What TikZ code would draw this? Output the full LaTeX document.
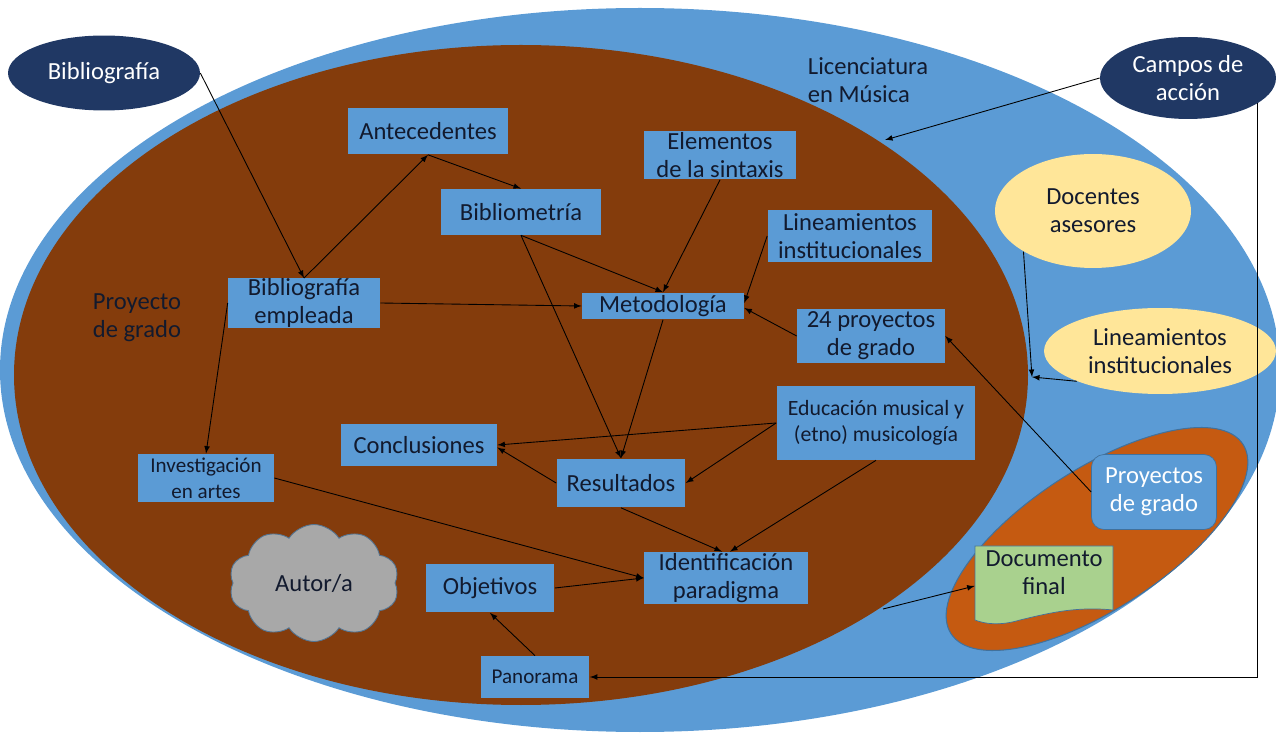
\documentclass[tikz,border=0pt]{standalone}
\usepackage{fontspec}
\setmainfont{Carlito}
\usetikzlibrary{shapes.symbols,shapes.geometric,arrows}
\definecolor{outerblue}{HTML}{5B9BD5}
\definecolor{brownin}{HTML}{843C0C}
\definecolor{orangein}{HTML}{C55A11}
\definecolor{navy}{HTML}{203864}
\definecolor{paleyellow}{HTML}{FFE699}
\definecolor{palegreen}{HTML}{A9D18E}
\definecolor{cloudgray}{HTML}{A8A8A8}
\definecolor{inktxt}{HTML}{121A2E}
\definecolor{edgeblue}{HTML}{41719C}

\begin{document}
\begin{tikzpicture}[x=0.02cm, y=-0.02cm, >=latex]
	\tikzstyle{box}=[rectangle, fill=outerblue, text=inktxt, align=center, inner sep=0pt, font=\fontsize{14}{16}\selectfont]
	\tikzstyle{oval}=[ellipse, fill=navy, text=white, align=center, inner sep=0pt, font=\fontsize{14}{16}\selectfont]
	\tikzstyle{yoval}=[ellipse, fill=paleyellow, text=inktxt, align=center, inner sep=0pt, font=\fontsize{14}{16}\selectfont]
	\tikzstyle{lbl}=[text=inktxt, align=left, font=\fontsize{14}{16}\selectfont]
	\tikzstyle{arr}=[->, black, line width=0.5pt]
	\useasboundingbox (0, 0) rectangle (1276, 733);

	% areas
	\fill[outerblue] (640, 370) ellipse (640 and 362);
	\fill[brownin] (521, 375) ellipse (507 and 330);
	\filldraw[fill=orangein, draw=edgeblue, line width=0.6pt, rotate around={33:(1097, 539)}] (1097, 539) ellipse (174 and 70);
	\filldraw[fill=palegreen, draw=edgeblue, line width=0.4pt] (975, 546) -- (1113, 546) -- (1113, 610)
		.. controls (1075, 606) and (1045, 614) .. (1020, 620) .. controls (1000, 626) and (985, 624) .. (975, 620) -- cycle;

	% texts on the areas
	\draw node[lbl] at (868, 80) (lic) {Licenciatura\\en Música};
	\draw node[lbl] at (137, 318) (proygrado) {Proyecto\\de grado};

	% outside ovals
	\draw node[oval, minimum width=3.84cm, minimum height=1.5cm] at (104, 73) (biblio) {Bibliografía};
	\draw node[oval, minimum width=3.52cm, minimum height=1.64cm] at (1188, 78) (campos) {Campos de\\acción};
	\draw node[yoval, minimum width=3.92cm, minimum height=2.28cm] at (1093, 211) (docen) {Docentes\\asesores};
	\draw node[yoval, minimum width=4.64cm, minimum height=1.72cm] at (1160, 351) (lineamy) {Lineamientos\\institucionales};

	% boxes
	\draw node[box, minimum width=3.2cm, minimum height=0.94cm] at (428, 131) (antec) {Antecedentes};
	\draw node[box, minimum width=3.22cm, minimum height=0.92cm] at (521, 212) (bibmet) {Bibliometría};
	\draw node[box, minimum width=3.06cm, minimum height=0.98cm] at (720, 155) (elem) {Elementos\\de la sintaxis};
	\draw node[box, minimum width=3.3cm, minimum height=1.04cm] at (850, 236) (lineam) {Lineamientos\\institucionales};
	\draw node[box, minimum width=3.04cm, minimum height=0.98cm] at (304, 303) (bibemp) {Bibliografía\\empleada};
	\draw node[box, minimum width=3.24cm, minimum height=0.54cm] at (663, 306) (metod) {Metodología};
	\draw node[box, minimum width=2.96cm, minimum height=1.08cm] at (871, 336) (proy24) {24 proyectos\\de grado};
	\draw node[box, minimum width=3.98cm, minimum height=1.48cm, font=\fontsize{12.4}{15}\selectfont] at (876, 423) (educ) {Educación musical y\\(etno) musicología};
	\draw node[box, minimum width=3.12cm, minimum height=0.86cm] at (419, 445) (concl) {Conclusiones};
	\draw node[box, minimum width=2.72cm, minimum height=0.96cm, font=\fontsize{12}{15}\selectfont] at (206, 478) (invest) {Investigación\\en artes};
	\draw node[box, minimum width=2.58cm, minimum height=0.98cm] at (621, 483) (result) {Resultados};
	\draw node[box, minimum width=3.28cm, minimum height=1.04cm] at (726, 578) (ident) {Identificación\\paradigma};
	\draw node[box, minimum width=2.58cm, minimum height=0.98cm] at (490, 588) (obj) {Objetivos};
	\draw node[box, minimum width=2.18cm, minimum height=0.84cm, font=\fontsize{12}{15}\selectfont] at (535, 677) (panor) {Panorama};
	\draw node[box, text=white, draw=edgeblue, line width=0.4pt, rounded corners=0.25cm, minimum width=2.5cm, minimum height=1.5cm] at (1154, 492) (proyg) {Proyectos\\de grado};
	\draw node[text=inktxt, align=center, inner sep=0pt, font=\fontsize{14}{16}\selectfont, minimum width=2.76cm, minimum height=1.3cm] at (1044, 573) (docf) {Documento\\final};
	\draw node[cloud, cloud puffs=10, cloud puff arc=115, aspect=1.45, fill=cloudgray, draw=edgeblue!70!gray, line width=0.5pt, text=inktxt, inner sep=0pt, minimum width=3.4cm, minimum height=2.34cm, font=\fontsize{14}{16}\selectfont] at (314, 583) (autor) {Autor/a};

	% points on the area borders
	\coordinate (brownin1) at (885, 140);
	\coordinate (brownin2) at (883, 609);
	\coordinate (meet) at (1032, 377);

	% connectors
	\draw [arr] (biblio.east) -- (bibemp.north);
	\draw [arr] (bibemp.north) -- (antec.south);
	\draw [arr] (antec.south) -- (bibmet.north);
	\draw [arr] (bibemp.east) -- (metod.west);
	\draw [arr] (bibmet.south) -- (metod.north);
	\draw [arr] (elem.south) -- (metod.north);
	\draw [arr] (lineam.west) -- ([yshift=0.06cm]metod.east);
	\draw [arr] (proy24.west) -- ([yshift=-0.04cm]metod.east);
	\draw [arr] (bibmet.south) -- (result.north);
	\draw [arr] (metod.south) -- (result.north);
	\draw [arr] (bibemp.west) -- (invest.north);
	\draw [arr] (educ.west) -- (concl.east);
	\draw [arr] (educ.west) -- (result.east);
	\draw [arr] (result.west) -- ([yshift=-0.05cm]concl.east);
	\draw [arr] (result.south) -- ([xshift=-0.08cm]ident.north);
	\draw [arr] (educ.south) -- ([xshift=0.08cm]ident.north);
	\draw [arr] (invest.east) -- (ident.west);
	\draw [arr] (obj.east) -- (ident.west);
	\draw [arr] (panor.north) -- (obj.south);
	\draw [arr] (campos.west) -- (brownin1);
	\draw [arr] (campos.-20) |- (panor.east);
	\draw [arr] (docen.south west) -- (meet);
	\draw [arr] (lineamy.200) -- (meet);
	\draw [arr] (proyg.west) -- (proy24.east);
	\draw [arr] (brownin2) -- ([yshift=-0.26cm]docf.west);
\end{tikzpicture}
\end{document}
